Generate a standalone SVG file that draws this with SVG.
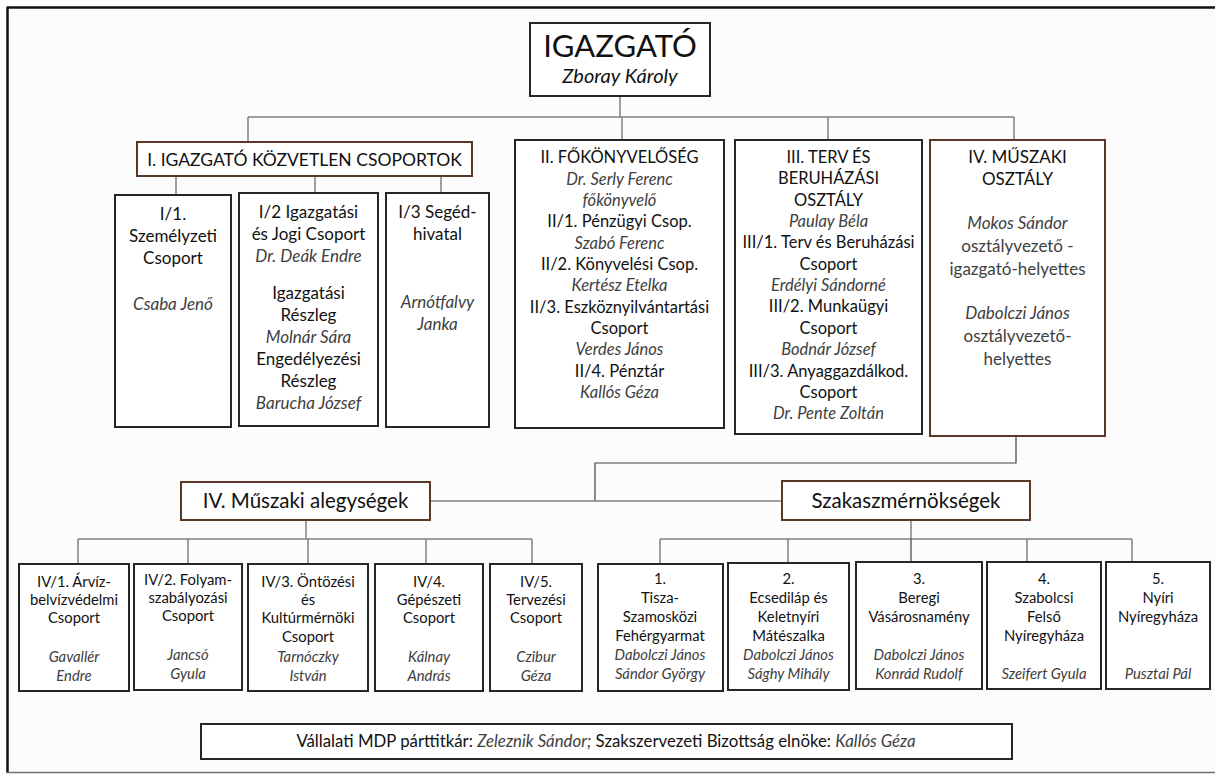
<svg xmlns="http://www.w3.org/2000/svg" width="1215" height="774" viewBox="0 0 1215 774">
<style>
.bg{fill:#fcfcfc}
.box{fill:#fff;stroke:#262626;stroke-width:2}
.brown{fill:#fff;stroke:#5a3825;stroke-width:2}
.conn{stroke:#808080;stroke-width:1.5;fill:none}
.connd{stroke:#404040;stroke-width:1.2;fill:none}
text{font-family:Lato,"Liberation Sans",sans-serif;text-anchor:middle;fill:#111}
.n{font-style:italic;fill:#404040}
.g{fill:#404040}
.s17{font-size:17px}
.s165{font-size:16.5px}
.s145{font-size:14.8px}
</style>
<rect class="bg" x="0" y="0" width="1215" height="774"/>
<g id="frame">
<line x1="7" y1="7.5" x2="1215" y2="7.5" stroke="#111" stroke-width="2.5"/>
<line x1="7.5" y1="7" x2="7.5" y2="773" stroke="#111" stroke-width="2.5"/>
<line x1="7" y1="772.5" x2="1215" y2="772.5" stroke="#707070" stroke-width="1.5"/>
</g>
<g id="connectors">
<path class="conn" d="M620 96V117M248 117H1014M248 117V142M622 117V140M828 117V140M1014 117V140"/>
<path class="conn" d="M176 176V195M315 176V193M441 176V193"/>
<path class="connd" d="M1016 436V463H595V501"/>
<path class="conn" d="M430 501H782"/>
<path class="conn" d="M306 520V539M78 539H532M78 539V564M188 539V564M308 539V564M426 539V564M532 539V564"/>
<path class="conn" d="M911 520V539M660 539H1132M660 539V564M788 539V563M1027 539V562M1132 539V562"/>
<path class="connd" d="M911 539V562"/>
</g>
<g id="igazgato">
<rect class="box" x="530" y="23" width="180" height="73"/>
<text x="620" y="57" style="font-size:31px">IGAZGATÓ</text>
<text x="620" y="83" class="n" style="font-size:20px;fill:#111">Zboray Károly</text>
</g>
<g id="csop-I">
<rect class="brown" x="137" y="142" width="335" height="34"/>
<text x="304.5" y="166" style="font-size:17.5px">I. IGAZGATÓ KÖZVETLEN CSOPORTOK</text>
</g>
<g id="I1">
<rect class="box" x="115" y="195" width="116" height="232"/>
<text class="s17" x="173" y="220">I/1.</text>
<text class="s17" x="173" y="242">Személyzeti</text>
<text class="s17" x="173" y="264">Csoport</text>
<text class="s17 n" x="173" y="310">Csaba Jenő</text>
</g>
<g id="I2">
<rect class="box" x="239" y="193" width="139" height="233"/>
<text class="s17" x="308.5" y="218">I/2 Igazgatási</text>
<text class="s17" x="308.5" y="240">és Jogi Csoport</text>
<text class="s17 n" x="308.5" y="262">Dr. Deák Endre</text>
<text class="s17" x="308.5" y="299">Igazgatási</text>
<text class="s17" x="308.5" y="321">Részleg</text>
<text class="s17 n" x="308.5" y="343">Molnár Sára</text>
<text class="s17" x="308.5" y="365">Engedélyezési</text>
<text class="s17" x="308.5" y="387">Részleg</text>
<text class="s17 n" x="308.5" y="409">Barucha József</text>
</g>
<g id="I3">
<rect class="box" x="386" y="193" width="103" height="234"/>
<text class="s17" x="437.5" y="218">I/3 Segéd-</text>
<text class="s17" x="437.5" y="240">hivatal</text>
<text class="s17 n" x="437.5" y="308">Arnótfalvy</text>
<text class="s17 n" x="437.5" y="330">Janka</text>
</g>
<g id="II">
<rect class="box" x="515" y="140" width="209" height="288"/>
<text class="s165" x="619.5" y="163">II. FŐKÖNYVELŐSÉG</text>
<text class="s165 n" x="619.5" y="185">Dr. Serly Ferenc</text>
<text class="s165 n" x="619.5" y="206">főkönyvelő</text>
<text class="s165" x="619.5" y="227">II/1. Pénzügyi Csop.</text>
<text class="s165 n" x="619.5" y="249">Szabó Ferenc</text>
<text class="s165" x="619.5" y="270">II/2. Könyvelési Csop.</text>
<text class="s165 n" x="619.5" y="291">Kertész Etelka</text>
<text class="s165" x="619.5" y="313">II/3. Eszköznyilvántartási</text>
<text class="s165" x="619.5" y="334">Csoport</text>
<text class="s165 n" x="619.5" y="355">Verdes János</text>
<text class="s165" x="619.5" y="377">II/4. Pénztár</text>
<text class="s165 n" x="619.5" y="398">Kallós Géza</text>
</g>
<g id="III">
<rect class="box" x="735" y="140" width="187" height="294"/>
<text class="s165" x="828.5" y="163">III. TERV ÉS</text>
<text class="s165" x="828.5" y="184">BERUHÁZÁSI</text>
<text class="s165" x="828.5" y="206">OSZTÁLY</text>
<text class="s165 n" x="828.5" y="227">Paulay Béla</text>
<text class="s165" x="828.5" y="248">III/1. Terv és Beruházási</text>
<text class="s165" x="828.5" y="270">Csoport</text>
<text class="s165 n" x="828.5" y="291">Erdélyi Sándorné</text>
<text class="s165" x="828.5" y="312">III/2. Munkaügyi</text>
<text class="s165" x="828.5" y="334">Csoport</text>
<text class="s165 n" x="828.5" y="355">Bodnár József</text>
<text class="s165" x="828.5" y="377">III/3. Anyaggazdálkod.</text>
<text class="s165" x="828.5" y="398">Csoport</text>
<text class="s165 n" x="828.5" y="419">Dr. Pente Zoltán</text>
</g>
<g id="IV">
<rect class="brown" x="930" y="140" width="175" height="296"/>
<text class="s17" x="1017.5" y="163">IV. MŰSZAKI</text>
<text class="s17" x="1017.5" y="185">OSZTÁLY</text>
<text class="s17 n" x="1017.5" y="229">Mokos Sándor</text>
<text class="s17 g" x="1017.5" y="252">osztályvezető -</text>
<text class="s17 g" x="1017.5" y="275">igazgató-helyettes</text>
<text class="s17 n" x="1017.5" y="319">Dabolczi János</text>
<text class="s17 g" x="1017.5" y="342">osztályvezető-</text>
<text class="s17 g" x="1017.5" y="365">helyettes</text>
</g>
<g id="IV-alegysegek">
<rect class="brown" x="181" y="482" width="249" height="38"/>
<text x="305.5" y="508" style="font-size:20.5px">IV. Műszaki alegységek</text>
</g>
<g id="szakasz">
<rect class="brown" x="782" y="481" width="248" height="39"/>
<text x="906" y="508" style="font-size:20.5px">Szakaszmérnökségek</text>
</g>
<g id="IV1">
<rect class="box" x="19" y="564" width="110" height="127"/>
<text class="s145" x="74" y="587">IV/1. Árvíz-</text>
<text class="s145" x="74" y="605">belvízvédelmi</text>
<text class="s145" x="74" y="623">Csoport</text>
<text class="s145 n" x="74" y="662">Gavallér</text>
<text class="s145 n" x="74" y="681">Endre</text>
</g>
<g id="IV2">
<rect class="box" x="134" y="564" width="108" height="126"/>
<text class="s145" x="188" y="585">IV/2. Folyam-</text>
<text class="s145" x="188" y="603">szabályozási</text>
<text class="s145" x="188" y="621">Csoport</text>
<text class="s145 n" x="188" y="660">Jancsó</text>
<text class="s145 n" x="188" y="679">Gyula</text>
</g>
<g id="IV3">
<rect class="box" x="248" y="564" width="120" height="127"/>
<text class="s145" x="308" y="587">IV/3. Öntözési</text>
<text class="s145" x="308" y="605">és</text>
<text class="s145" x="308" y="623">Kultúrmérnöki</text>
<text class="s145" x="308" y="642">Csoport</text>
<text class="s145 n" x="308" y="662">Tarnóczky</text>
<text class="s145 n" x="308" y="681">István</text>
</g>
<g id="IV4">
<rect class="box" x="375" y="564" width="108" height="127"/>
<text class="s145" x="429" y="587">IV/4.</text>
<text class="s145" x="429" y="605">Gépészeti</text>
<text class="s145" x="429" y="623">Csoport</text>
<text class="s145 n" x="429" y="662">Kálnay</text>
<text class="s145 n" x="429" y="681">András</text>
</g>
<g id="IV5">
<rect class="box" x="490" y="564" width="92" height="127"/>
<text class="s145" x="536" y="587">IV/5.</text>
<text class="s145" x="536" y="605">Tervezési</text>
<text class="s145" x="536" y="623">Csoport</text>
<text class="s145 n" x="536" y="662">Czibur</text>
<text class="s145 n" x="536" y="681">Géza</text>
</g>
<g id="SZ1">
<rect class="box" x="598" y="564" width="125" height="127"/>
<text class="s145" x="660" y="584">1.</text>
<text class="s145" x="660" y="603">Tisza-</text>
<text class="s145" x="660" y="622">Szamosközi</text>
<text class="s145" x="660" y="641">Fehérgyarmat</text>
<text class="s145 n" x="660" y="660">Dabolczi János</text>
<text class="s145 n" x="660" y="679">Sándor György</text>
</g>
<g id="SZ2">
<rect class="box" x="728" y="563" width="121" height="127"/>
<text class="s145" x="788.5" y="584">2.</text>
<text class="s145" x="788.5" y="603">Ecsediláp és</text>
<text class="s145" x="788.5" y="622">Keletnyíri</text>
<text class="s145" x="788.5" y="641">Mátészalka</text>
<text class="s145 n" x="788.5" y="660">Dabolczi János</text>
<text class="s145 n" x="788.5" y="679">Sághy Mihály</text>
</g>
<g id="SZ3">
<rect class="box" x="856" y="562" width="126" height="127"/>
<text class="s145" x="919" y="584">3.</text>
<text class="s145" x="919" y="603">Beregi</text>
<text class="s145" x="919" y="622">Vásárosnamény</text>
<text class="s145 n" x="919" y="660">Dabolczi János</text>
<text class="s145 n" x="919" y="679">Konrád Rudolf</text>
</g>
<g id="SZ4">
<rect class="box" x="987" y="562" width="114" height="127"/>
<text class="s145" x="1044" y="584">4.</text>
<text class="s145" x="1044" y="603">Szabolcsi</text>
<text class="s145" x="1044" y="622">Felső</text>
<text class="s145" x="1044" y="641">Nyíregyháza</text>
<text class="s145 n" x="1044" y="679">Szeifert Gyula</text>
</g>
<g id="SZ5">
<rect class="box" x="1106" y="562" width="104" height="127"/>
<text class="s145" x="1158" y="584">5.</text>
<text class="s145" x="1158" y="603">Nyíri</text>
<text class="s145" x="1158" y="622">Nyíregyháza</text>
<text class="s145 n" x="1158" y="679">Pusztai Pál</text>
</g>
<g id="footer">
<rect class="box" x="201" y="724" width="811" height="35"/>
<text x="606" y="747" style="font-size:16.8px">Vállalati MDP párttitkár: <tspan class="n">Zeleznik Sándor;</tspan> Szakszervezeti Bizottság elnöke: <tspan class="n">Kallós Géza</tspan></text>
</g>
</svg>
